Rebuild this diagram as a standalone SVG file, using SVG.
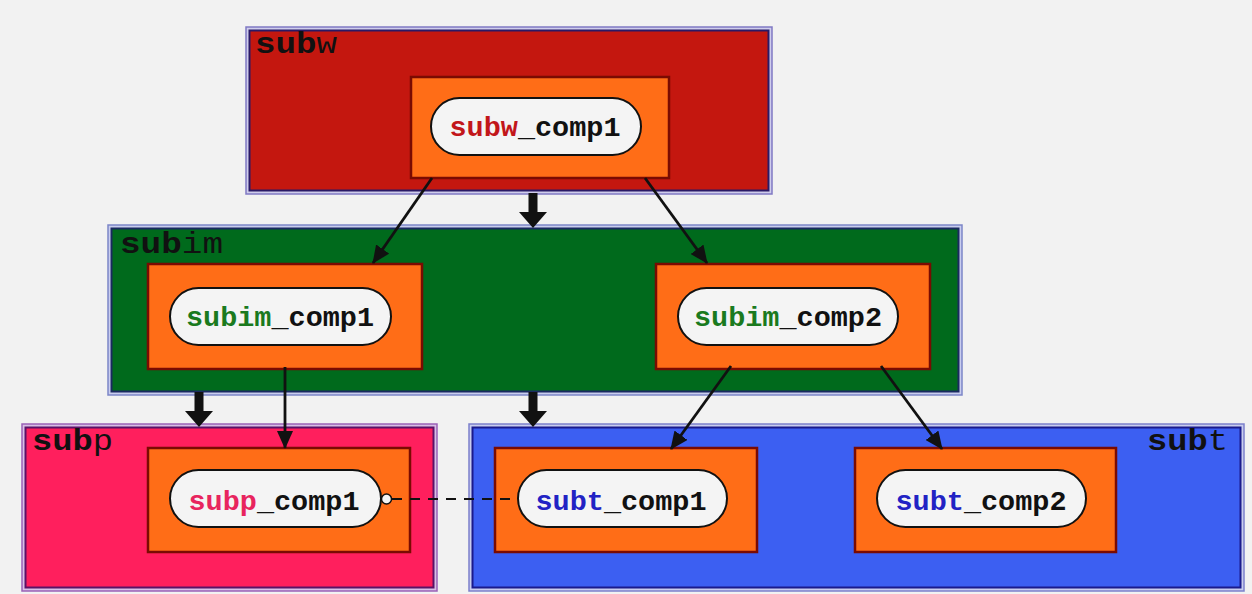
<svg xmlns="http://www.w3.org/2000/svg" xmlns:xlink="http://www.w3.org/1999/xlink" width="1252" height="594" viewBox="0 0 1252 594">
  <style>
    .band { stroke-width: 1.5; }
    .frame { stroke-width: 2; }
    .box { fill: #ff6d17; stroke: #7a0b02; stroke-width: 2.5; }
    .pill { fill: #f4f4f4; stroke: #111; stroke-width: 2; }
    .ptxt { font-family: "Liberation Mono", "DejaVu Sans Mono", monospace; font-weight: bold; font-size: 28.5px; text-anchor: middle; fill: #111; }
    .clab { font-family: "Liberation Mono", "DejaVu Sans Mono", monospace; font-size: 30px; fill: #111; }
    .clab .b { font-weight: bold; }
    .edge { stroke: #111; stroke-width: 2.8; fill: none; marker-end: url(#tip); }
    .dash { stroke: #111; stroke-width: 2; stroke-dasharray: 10 8; fill: none; }
    .fat { fill: #111; }
  </style>
  <defs>
    <marker id="tip" viewBox="0 0 18 16" refX="17" refY="8" markerWidth="18" markerHeight="16" markerUnits="userSpaceOnUse" orient="auto">
      <path d="M0,0 L18,8 L0,16 Z" fill="#111"/>
    </marker>
    <!-- heavy block arrow, tip at (0,35) -->
    <path id="fatArrow" d="M-4.5,0 H4.5 V19 H14 L0,35 L-14,19 H-4.5 Z"/>
  </defs>

  <rect x="0" y="0" width="1252" height="594" fill="#f2f2f2"/>

  <!-- cluster subw -->
  <g id="subw">
    <rect class="band" x="246" y="27" width="526" height="167" fill="#cfcdec" stroke="#8079c4"/>
    <rect class="frame" x="249.5" y="30.5" width="519" height="160" fill="#c4170f" stroke="#2a1a66"/>
    <text class="clab" x="255" y="53" textLength="82" lengthAdjust="spacingAndGlyphs"><tspan class="b">sub</tspan>w</text>
  </g>

  <!-- cluster subim -->
  <g id="subim">
    <rect class="band" x="108" y="225" width="854" height="170" fill="#c9cdee" stroke="#7c86c8"/>
    <rect class="frame" x="111.5" y="228.5" width="847" height="163" fill="#006a1c" stroke="#1a2a60"/>
    <text class="clab" x="120" y="253" textLength="103" lengthAdjust="spacingAndGlyphs"><tspan class="b">sub</tspan>im</text>
  </g>

  <!-- cluster subp -->
  <g id="subp">
    <rect class="band" x="22" y="424" width="415" height="167" fill="#d8bfe6" stroke="#9a62b6"/>
    <rect class="frame" x="25.5" y="427.5" width="408" height="160" fill="#ff1f5d" stroke="#5a1266"/>
    <text class="clab" x="32" y="450" textLength="81" lengthAdjust="spacingAndGlyphs"><tspan class="b">sub</tspan>p</text>
  </g>

  <!-- cluster subt -->
  <g id="subt">
    <rect class="band" x="469" y="424" width="775" height="167" fill="#c9cdee" stroke="#7c80cc"/>
    <rect class="frame" x="472.5" y="427.5" width="768" height="160" fill="#3c5ff2" stroke="#1a1a8c"/>
    <text class="clab" x="1147" y="450" textLength="81" lengthAdjust="spacingAndGlyphs"><tspan class="b">sub</tspan>t</text>
  </g>

  <!-- components -->
  <g id="subw_comp1">
    <rect class="box" x="411" y="77" width="258" height="101"/>
    <rect class="pill" x="431" y="98" width="210" height="57" rx="28.5"/>
    <text class="ptxt" x="535" y="136"><tspan fill="#c2161a">subw</tspan>_comp1</text>
  </g>

  <g id="subim_comp1">
    <rect class="box" x="148" y="264" width="274" height="105"/>
    <rect class="pill" x="170" y="288" width="221" height="57" rx="28.5"/>
    <text class="ptxt" x="280" y="326"><tspan fill="#1a7a1e">subim</tspan>_comp1</text>
  </g>

  <g id="subim_comp2">
    <rect class="box" x="656" y="264" width="274" height="105"/>
    <rect class="pill" x="678" y="288" width="220" height="57" rx="28.5"/>
    <text class="ptxt" x="788" y="326"><tspan fill="#1a7a1e">subim</tspan>_comp2</text>
  </g>

  <g id="subp_comp1">
    <rect class="box" x="148" y="448" width="262" height="104"/>
    <rect class="pill" x="170" y="470" width="211" height="57" rx="28.5"/>
    <text class="ptxt" x="274" y="510"><tspan fill="#e8245e">subp</tspan>_comp1</text>
  </g>

  <g id="subt_comp1">
    <rect class="box" x="495" y="448" width="262" height="104"/>
    <rect class="pill" x="518" y="470" width="209" height="57" rx="28.5"/>
    <text class="ptxt" x="621" y="510"><tspan fill="#2222c4">subt</tspan>_comp1</text>
  </g>

  <g id="subt_comp2">
    <rect class="box" x="855" y="448" width="261" height="104"/>
    <rect class="pill" x="877" y="470" width="209" height="57" rx="28.5"/>
    <text class="ptxt" x="981" y="510"><tspan fill="#2222c4">subt</tspan>_comp2</text>
  </g>

  <!-- connectors -->
  <g id="connectors">
    <line class="edge" x1="432" y1="178" x2="373" y2="263"/>
    <line class="edge" x1="645" y1="178" x2="707" y2="263"/>
    <line class="edge" x1="285" y1="367" x2="285" y2="448"/>
    <line class="edge" x1="731" y1="366" x2="671" y2="449"/>
    <line class="edge" x1="881" y1="366" x2="942" y2="449"/>

    <use href="#fatArrow" class="fat" x="533" y="193"/>
    <use href="#fatArrow" class="fat" x="199" y="392"/>
    <use href="#fatArrow" class="fat" x="533" y="392"/>

    <line class="dash" x1="392" y1="499" x2="518" y2="499"/>
    <circle cx="386.5" cy="499" r="5" fill="#f4f4f4" stroke="#111" stroke-width="1.5"/>
  </g>
</svg>
